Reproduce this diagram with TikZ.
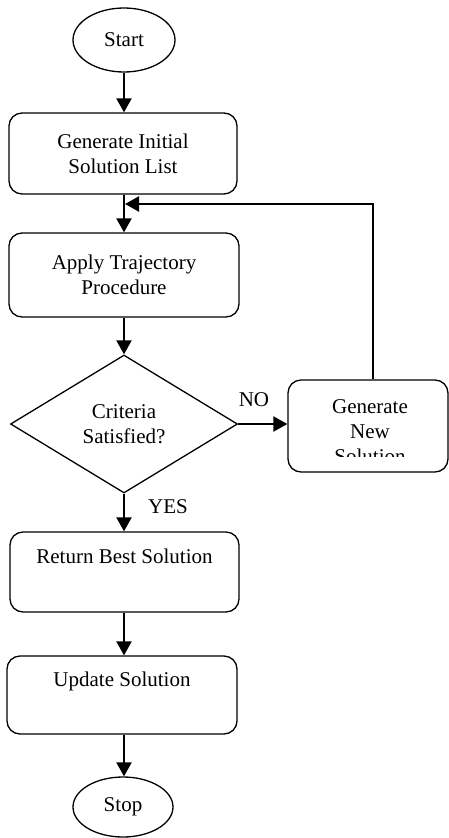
\documentclass[tikz,border=0pt]{standalone}
\usepackage{fontspec}
\setmainfont{Liberation Serif}
\usetikzlibrary{shapes.geometric,arrows.meta,calc}
\begin{document}
\begin{tikzpicture}[x=1pt,y=-1pt,
  font=\fontsize{21}{25}\selectfont,
  box/.style={draw, line width=1.3pt, rounded corners=13pt, inner sep=0pt, align=center},
  term/.style={draw, ellipse, line width=1.3pt, inner sep=0pt},
  decision/.style={draw, diamond, line width=1.3pt, inner sep=0pt, aspect=1.64, align=center},
  arr/.style={line width=2.2pt, -{Triangle[width=15pt,length=14pt]}},
  lbl/.style={inner sep=0pt, align=center}]
\useasboundingbox (0,0) rectangle (449,838);

\node[term, minimum width=102pt, minimum height=64pt] (start) at (124,40) {Start};
\node[box, minimum width=228pt, minimum height=81pt] (gen) at (123,153.5) {Generate Initial\\Solution List};
\node[box, minimum width=230pt, minimum height=84pt] (apply) at (124,275) {Apply Trajectory\\Procedure};
\node[decision, minimum width=227pt, minimum height=138pt] (dec) at (124,424) {Criteria\\Satisfied?};
\node[box, minimum width=160pt, minimum height=92pt] (gnew) at (368,426) {};
\begin{scope}
  \clip (288,370) rectangle (449,456);
  \node[lbl] (gnewtxt) at (370,432) {Generate\\New\\Solution};
\end{scope}
\node[box, minimum width=229pt, minimum height=80pt] (ret) at (124.5,572) {Return Best Solution\\ \strut};
\node[box, minimum width=230pt, minimum height=78pt] (upd) at (122,695) {Update Solution\\ \strut};
\node[term, minimum width=100pt, minimum height=60pt] (stop) at (123,807) {Stop};

\node[lbl] (no) at (254,400) {NO};
\node[lbl] (yes) at (168,507) {YES};

\coordinate (fbturn) at (373,204);
\coordinate (fbend) at (125,204);

\draw[arr] (start.south) -- (start.south |- gen.north);
\draw[arr] (start.south |- gen.south) -- (start.south |- apply.north);
\draw[arr] (start.south |- apply.south) -- (start.south |- dec.north);
\draw[arr] (dec.east) -- (dec.east -| gnew.west);
\draw[arr] (gnew.north -| fbturn) -- (fbturn) -- (fbend);
\draw[arr] (dec.south) -- (dec.south |- ret.north);
\draw[arr] (start.south |- ret.south) -- (start.south |- upd.north);
\draw[arr] (start.south |- upd.south) -- (start.south |- stop.north);
\end{tikzpicture}
\end{document}
